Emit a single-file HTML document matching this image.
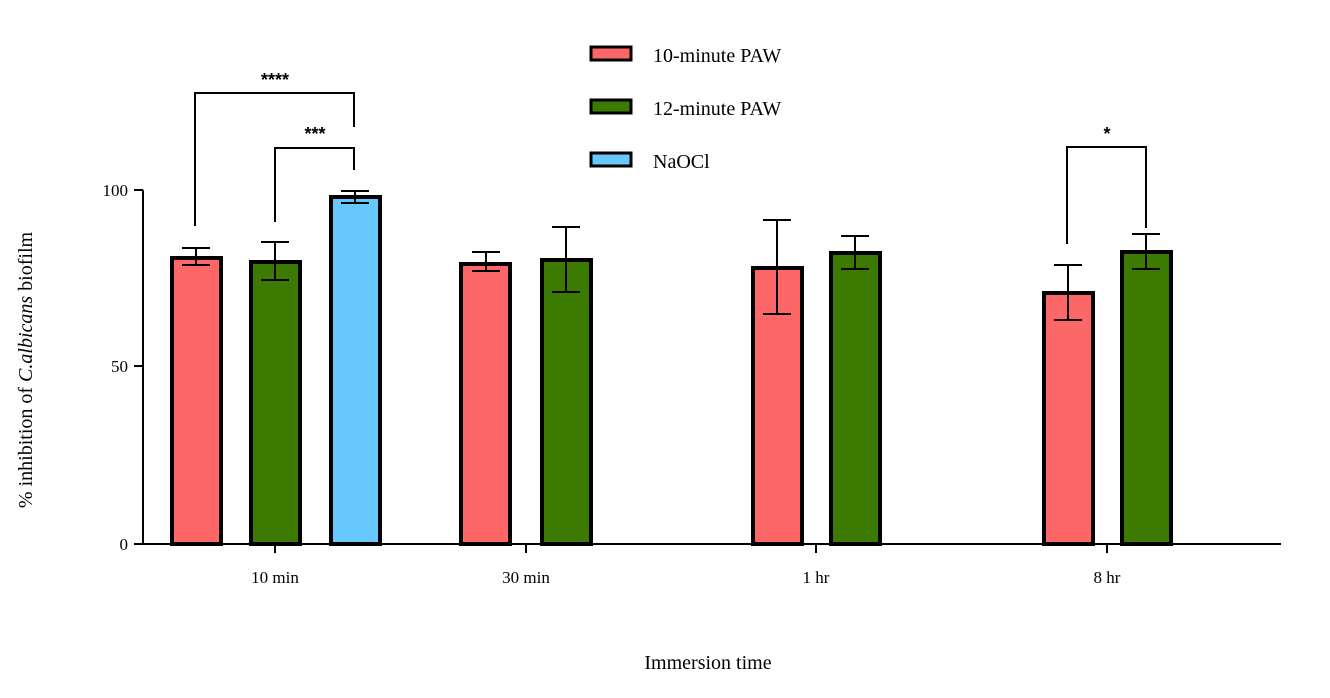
<!DOCTYPE html>
<html><head><style>body{margin:0;background:#fff}</style></head><body>
<svg width="1330" height="693" xmlns="http://www.w3.org/2000/svg" font-family="Liberation Serif, serif">
<g stroke="#000" stroke-width="2" fill="none">
<line x1="143" y1="190" x2="143" y2="544"/>
<line x1="143" y1="544" x2="1281" y2="544"/>
<line x1="134" y1="190" x2="143" y2="190"/>
<line x1="134" y1="366" x2="143" y2="366"/>
<line x1="134" y1="544" x2="143" y2="544"/>
<line x1="275" y1="544" x2="275" y2="553"/>
<line x1="526" y1="544" x2="526" y2="553"/>
<line x1="816" y1="544" x2="816" y2="553"/>
<line x1="1107" y1="544" x2="1107" y2="553"/>
</g>
<g font-size="17" text-anchor="end"><text x="128" y="196">100</text><text x="128" y="372">50</text><text x="128" y="550">0</text></g>
<g font-size="17" text-anchor="middle"><text x="275" y="583">10 min</text><text x="526" y="583">30 min</text><text x="816" y="583">1 hr</text><text x="1107" y="583">8 hr</text>
<text x="708" y="669" font-size="20">Immersion time</text></g>
<text transform="translate(32,370) rotate(-90)" font-size="20" text-anchor="middle">% inhibition of <tspan font-style="italic">C.albicans</tspan> biofilm</text>
<g stroke="#000" stroke-width="4">
<rect x="172" y="258" width="49" height="286" fill="#fd6767"/>
<rect x="251" y="262" width="49" height="282" fill="#3d7a01"/>
<rect x="331" y="197" width="49" height="347" fill="#66c8fd"/>
<rect x="461" y="264" width="49" height="280" fill="#fd6767"/>
<rect x="542" y="260" width="49" height="284" fill="#3d7a01"/>
<rect x="753" y="268" width="49" height="276" fill="#fd6767"/>
<rect x="831" y="253" width="49" height="291" fill="#3d7a01"/>
<rect x="1044" y="293" width="49" height="251" fill="#fd6767"/>
<rect x="1122" y="252" width="49" height="292" fill="#3d7a01"/>
</g>
<g stroke="#000" stroke-width="2" fill="none">
<path d="M196 248V265M182 248H210M182 265H210"/>
<path d="M275 242V280M261 242H289M261 280H289"/>
<path d="M355 191V203M341 191H369M341 203H369"/>
<path d="M486 252V271M472 252H500M472 271H500"/>
<path d="M566 227V292M552 227H580M552 292H580"/>
<path d="M777 220V314M763 220H791M763 314H791"/>
<path d="M855 236V269M841 236H869M841 269H869"/>
<path d="M1068 265V320M1054 265H1082M1054 320H1082"/>
<path d="M1146 234V269M1132 234H1160M1132 269H1160"/>
<path d="M195 226V93H354V127"/>
<path d="M275 222V148H354V170"/>
<path d="M1067 244V147H1146V228"/>
</g>
<g font-size="18" font-weight="bold" text-anchor="middle" font-family="Liberation Sans, sans-serif"><text x="275" y="86">****</text><text x="315" y="140">***</text><text x="1107" y="140">*</text></g>
<g stroke="#000" stroke-width="3">
<rect x="591" y="47" width="40" height="13" fill="#fd6767"/>
<rect x="591" y="100" width="40" height="13" fill="#3d7a01"/>
<rect x="591" y="153" width="40" height="13" fill="#66c8fd"/>
</g>
<g font-size="20"><text x="653" y="62">10-minute PAW</text><text x="653" y="115">12-minute PAW</text><text x="653" y="168">NaOCl</text></g>
</svg>
</body></html>
